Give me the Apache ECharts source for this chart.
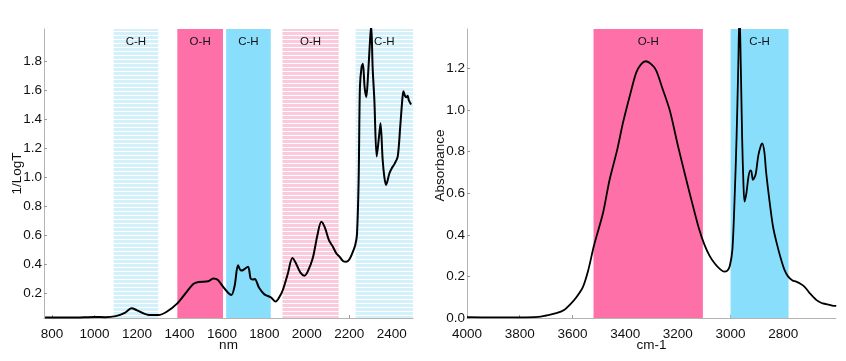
<!DOCTYPE html>
<html>
<head>
<meta charset="utf-8">
<script src="https://cdn.jsdelivr.net/npm/echarts@6/dist/echarts.min.js"></script>
<style>html,body{margin:0;padding:0;background:#fff}#c{width:846px;height:361px}</style>
</head>
<body>
<div id="c"></div>
<script>
// ---- data ----
var nmX = [767,800,900,1000,1050,1100,1140,1175,1200,1250,1300,1340,1390,1430,1465,1490,1535,1560,1580,1605,1630,1645,1660,1676,1690,1700,1723,1735,1746,1755,1775,1800,1830,1853,1870,1887,1910,1932,1950,1970,1989,2005,2028,2050,2068,2085,2105,2122,2140,2154,2170,2186,2200,2217,2228,2236,2244,2250,2258,2264,2272,2280,2287,2296,2303,2310,2318,2329,2340,2347,2357,2365,2373,2389,2400,2413,2428,2440,2450,2455,2462,2468,2475,2480,2491];
var nmY = [0.030,0.030,0.030,0.034,0.033,0.040,0.060,0.095,0.080,0.050,0.047,0.070,0.128,0.200,0.262,0.276,0.280,0.300,0.290,0.243,0.200,0.186,0.250,0.390,0.355,0.358,0.381,0.300,0.292,0.296,0.235,0.190,0.170,0.140,0.170,0.220,0.330,0.440,0.400,0.340,0.319,0.350,0.440,0.600,0.690,0.650,0.560,0.520,0.470,0.450,0.420,0.415,0.430,0.484,0.530,0.600,0.980,1.620,1.760,1.780,1.620,1.550,1.670,1.900,2.050,1.750,1.530,1.140,1.280,1.370,1.120,1.000,0.945,1.025,1.060,1.090,1.140,1.350,1.540,1.590,1.560,1.550,1.560,1.530,1.500];
var cmX = [4000,3900,3800,3730,3700,3661,3630,3610,3585,3560,3540,3518,3484,3459,3430,3408,3380,3358,3340,3322,3300,3282,3260,3231,3200,3168,3145,3120,3100,3080,3060,3040,3025,3012,3003,2993,2984,2977,2971,2966,2961,2956,2951,2947,2940,2932,2925,2921,2915,2905,2895,2885,2880,2872,2865,2852,2839,2825,2808,2795,2782,2765,2751,2735,2719,2700,2675,2655,2637,2615,2599];
var cmY = [0.004,0.003,0.003,0.005,0.012,0.023,0.040,0.063,0.100,0.150,0.230,0.350,0.505,0.665,0.810,0.940,1.080,1.180,1.220,1.235,1.220,1.190,1.110,1.000,0.830,0.665,0.550,0.430,0.355,0.300,0.262,0.235,0.223,0.228,0.250,0.330,0.600,0.880,1.200,1.480,1.200,0.860,0.640,0.560,0.600,0.680,0.710,0.705,0.665,0.690,0.780,0.830,0.840,0.800,0.700,0.560,0.440,0.360,0.280,0.230,0.200,0.180,0.175,0.165,0.150,0.120,0.087,0.072,0.067,0.060,0.058];
var nmTicks = [800,1000,1200,1400,1600,1800,2000,2200,2400];
var nmYTicks = [0.2,0.4,0.6,0.8,1.0,1.2,1.4,1.6,1.8];
var cmTicks = [4000,3800,3600,3400,3200,3000,2800];
var cmYTicks = [0.0,0.2,0.4,0.6,0.8,1.0,1.2];
// bands: [from, to, label, kind]
var nmBands = [[1090,1300,'C-H','blueStripe'],[1390,1605,'O-H','pinkSolid'],[1620,1830,'C-H','blueSolid'],[1885,2150,'O-H','pinkStripe'],[2230,2500,'C-H','blueStripe']];
var cmBands = [[3520,3105,'O-H','pinkSolid'],[3000,2780,'C-H','blueSolid']];

// ---- styles ----
function stripe(color){
  var c = document.createElement('canvas'); c.width = 4; c.height = 4;
  var g = c.getContext('2d'); g.fillStyle = '#ffffff'; g.fillRect(0,0,4,4);
  g.fillStyle = color; g.fillRect(0,0,4,3);
  return {image: c, repeat: 'repeat'};
}
var bandColors = {
  blueStripe: stripe('#d3f0fb'),
  pinkStripe: stripe('#fbcadd'),
  pinkSolid: '#fe71a8',
  blueSolid: '#89dffb'
};
function areas(bands){
  return bands.map(function(b){
    return [{xAxis: b[0], name: b[2], itemStyle: {color: bandColors[b[3]]}}, {xAxis: b[1]}];
  });
}
function zip(xs, ys){ return xs.map(function(x,i){ return [x, ys[i]]; }); }

var font = 'Liberation Sans, Arial, sans-serif';
var axisLineC = '#b4b4b4';
var txt = '#111';
var fs = 13.5;
function xAxisCfg(idx, min, max, ticks, name, inverse){
  return {
    type: 'value', gridIndex: idx, min: min, max: max, inverse: !!inverse,
    name: name, nameLocation: 'middle', nameGap: 20, nameMoveOverlap: false,
    nameTextStyle: {fontFamily: font, fontSize: fs, color: txt},
    axisLine: {show: true, onZero: false, lineStyle: {color: axisLineC, width: 1}},
    axisTick: {show: true, inside: true, length: 3, customValues: ticks, lineStyle: {color: '#999'}},
    axisLabel: {customValues: ticks, margin: 9, fontFamily: font, fontSize: fs, color: txt,
      formatter: function(v){ return String(v); }},
    splitLine: {show: false}
  };
}
function yAxisCfg(idx, min, max, ticks, name, pad){
  return {
    type: 'value', gridIndex: idx, min: min, max: max,
    name: name, nameLocation: 'middle', nameGap: 20, nameMoveOverlap: false,
    nameTextStyle: {fontFamily: font, fontSize: fs, color: txt, padding: pad},
    axisLine: {show: true, onZero: false, lineStyle: {color: axisLineC, width: 1}},
    axisTick: {show: true, inside: true, length: 3, customValues: ticks, lineStyle: {color: '#999'}},
    axisLabel: {customValues: ticks, margin: 2, fontFamily: font, fontSize: fs, color: txt,
      formatter: function(v){ return Number(v).toFixed(1); }},
    splitLine: {show: false}
  };
}
var markLabel = {show: true, position: 'insideTop', distance: 7, color: '#111', fontFamily: font, fontSize: 11.5};

var chart = echarts.init(document.getElementById('c'), null, {renderer: 'canvas'});
chart.setOption({
  animation: false,
  backgroundColor: '#fff',
  grid: [
    {left: 44, right: 433, top: 29, bottom: 43},
    {left: 467, right: 10, top: 29, bottom: 43}
  ],
  xAxis: [
    xAxisCfg(0, 762, 2500, nmTicks, 'nm', false),
    xAxisCfg(1, 2600, 4000, cmTicks, 'cm-1', true)
  ],
  yAxis: [
    yAxisCfg(0, 0.027, 2.02, nmYTicks, '1/LogT', [0,0,0,0]),
    yAxisCfg(1, 0, 1.39, cmYTicks, 'Absorbance', [0,0,0,16])
  ],
  series: [
    {type: 'line', xAxisIndex: 0, yAxisIndex: 0, data: zip(nmX, nmY), showSymbol: false, smooth: 0.3,
     clip: true, lineStyle: {color: '#000', width: 2}, z: 5,
     markArea: {silent: true, label: markLabel, data: areas(nmBands)}},
    {type: 'line', xAxisIndex: 1, yAxisIndex: 1, data: zip(cmX, cmY), showSymbol: false, smooth: 0.3,
     clip: true, lineStyle: {color: '#000', width: 1.8}, z: 5,
     markArea: {silent: true, label: markLabel, data: areas(cmBands)}}
  ]
});
</script>
</body>
</html>
